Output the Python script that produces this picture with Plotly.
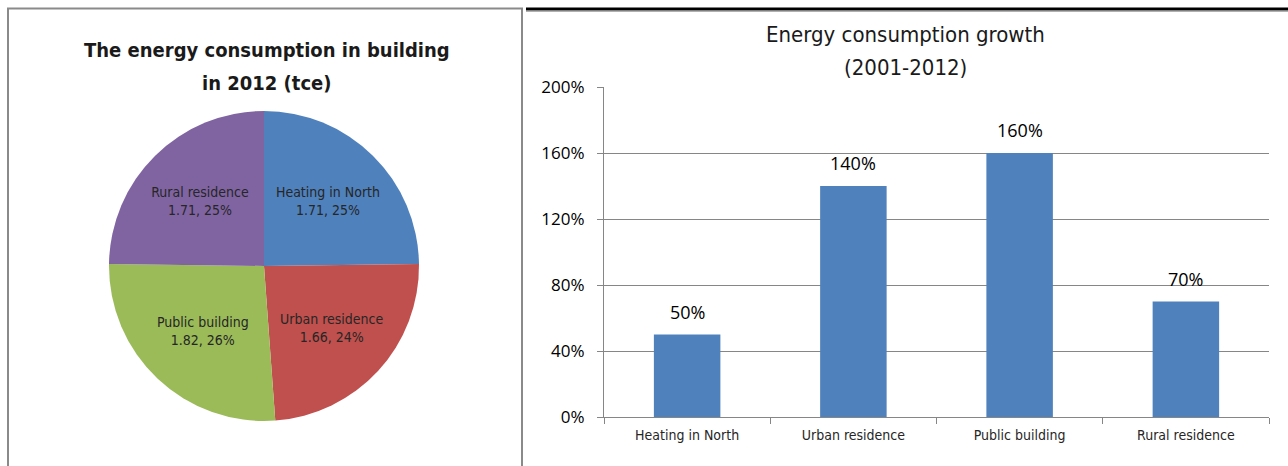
import plotly.graph_objects as go

W, H = 1288, 466

# ---- data ----
pie_labels = ["Heating in North", "Urban residence", "Public building", "Rural residence"]
pie_values = [1.71, 1.66, 1.82, 1.71]
pie_colors = ["#4F81BD", "#C0504D", "#9BBB59", "#8064A2"]

bar_categories = ["Heating in North", "Urban residence", "Public building", "Rural residence"]
bar_values = [0.50, 1.40, 1.60, 0.70]
bar_labels = ["50%", "140%", "160%", "70%"]
y_tick_vals = [0, 0.4, 0.8, 1.2, 1.6, 2.0]
y_tick_text = ["0%", "40%", "80%", "120%", "160%", "200%"]

left_title_lines = ["The energy consumption in building", "in 2012 (tce)"]
right_title_lines = ["Energy consumption growth", "(2001-2012)"]

COND = "DejaVu Sans Condensed, Liberation Sans Narrow, Roboto Condensed, DejaVu Sans, sans-serif"
NUM = "Open Sans, Liberation Sans, sans-serif"
GRAY = "#868686"


def px(x):
    return x / W


def py(y):
    return 1 - y / H


fig = go.Figure()

fig.add_trace(go.Pie(
    labels=pie_labels,
    values=pie_values,
    sort=False,
    direction="clockwise",
    rotation=0,
    marker=dict(colors=pie_colors, line=dict(width=0)),
    texttemplate="%{label}<br>%{value:.2f}, %{percent:.0%}",
    textposition="inside",
    insidetextorientation="horizontal",
    textfont=dict(family=COND, size=14, color="#262626"),
    showlegend=False,
    hoverinfo="label+value+percent",
    domain=dict(x=[px(109), px(419)], y=[py(421), py(111)]),
))

fig.add_trace(go.Bar(
    x=bar_categories,
    y=bar_values,
    width=0.4,
    marker=dict(color="#4F81BD", line=dict(width=0)),
    showlegend=False,
    xaxis="x",
    yaxis="y",
))

annotations = []
for c, v, t in zip(bar_categories, bar_values, bar_labels):
    annotations.append(dict(
        x=c, y=v, xref="x", yref="y", text=t, showarrow=False,
        yanchor="bottom", yshift=9,
        font=dict(family=NUM, size=18, color="#000000"),
    ))

for line, yy in zip(left_title_lines, [50, 83]):
    annotations.append(dict(
        x=px(267), y=py(yy), xref="paper", yref="paper",
        text="<b>" + line + "</b>",
        showarrow=False, xanchor="center", yanchor="middle",
        font=dict(family=COND, size=20, color="#1a1a1a"),
    ))
for line, yy in zip(right_title_lines, [34, 67]):
    annotations.append(dict(
        x=px(905), y=py(yy), xref="paper", yref="paper",
        text=line,
        showarrow=False, xanchor="center", yanchor="middle",
        font=dict(family=COND, size=22, color="#1a1a1a"),
    ))

shapes = [
    # left panel border
    dict(type="line", xref="paper", yref="paper", x0=px(7), x1=px(523), y0=py(8.5), y1=py(8.5),
         line=dict(color="#8a8a8a", width=2)),
    dict(type="line", xref="paper", yref="paper", x0=px(8), x1=px(8), y0=py(8), y1=py(466),
         line=dict(color="#8a8a8a", width=2)),
    dict(type="line", xref="paper", yref="paper", x0=px(522), x1=px(522), y0=py(8), y1=py(466),
         line=dict(color="#8a8a8a", width=2)),
    # right panel top
    dict(type="line", xref="paper", yref="paper", x0=px(526), x1=px(1288), y0=py(9), y1=py(9),
         line=dict(color="#000000", width=3)),
    dict(type="line", xref="paper", yref="paper", x0=px(526), x1=px(1288), y0=py(11.5), y1=py(11.5),
         line=dict(color="#b0b0b0", width=1)),
]

fig.update_layout(
    width=W, height=H,
    margin=dict(l=0, r=0, t=0, b=0, pad=0, autoexpand=False),
    paper_bgcolor="white",
    plot_bgcolor="white",
    bargap=0.6,
    xaxis=dict(
        domain=[px(604), px(1269)],
        type="category",
        range=[-0.5, 3.5],
        showline=True, linecolor=GRAY, linewidth=1.3,
        ticks="outside", tickson="boundaries", ticklen=6, tickcolor=GRAY, tickwidth=1.3,
        ticklabelstandoff=5,
        showgrid=False, zeroline=False,
        tickfont=dict(family=COND, size=14, color="#262626"),
        anchor="y",
        automargin=False,
        fixedrange=True,
    ),
    yaxis=dict(
        domain=[py(417), py(87)],
        range=[0, 2],
        tickvals=y_tick_vals, ticktext=y_tick_text,
        showgrid=True, gridcolor=GRAY, gridwidth=1.3,
        showline=True, linecolor=GRAY, linewidth=1.3,
        ticks="outside", ticklen=6, tickcolor=GRAY, tickwidth=1.3,
        ticklabelstandoff=9,
        zeroline=False,
        tickfont=dict(family=NUM, size=17, color="#000000"),
        anchor="x",
        automargin=False,
        fixedrange=True,
    ),
    annotations=annotations,
    shapes=shapes,
)

fig.write_html("out.html")
